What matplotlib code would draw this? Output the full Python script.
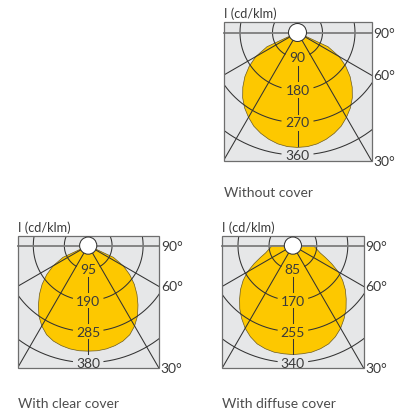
import numpy as np
import matplotlib
matplotlib.use("Agg")
import matplotlib.pyplot as plt
from matplotlib.patches import Rectangle, Circle, Polygon

plt.rcParams['font.family'] = ['Lato', 'DejaVu Sans']

# ── Data: luminous intensity (cd/klm) vs angle from nadir (deg) ──────────────
gamma = np.array([0, 5, 10, 15, 20, 25, 30, 35, 40, 45,
                  50, 55, 60, 65, 70, 75, 80, 85, 90])
i_without = np.array([339, 338, 334, 327, 318, 307, 292, 276, 257, 235,
                      211, 184, 154, 114, 20, 20, 18, 16, 15])
i_clear = np.array([345, 345, 343, 339, 333, 323, 306, 285, 259, 233,
                    206, 177, 146, 107, 21, 20, 19, 19, 19])
i_diffuse = np.array([318, 317, 316, 312, 306, 295, 281, 264, 246, 226,
                      207, 186, 163, 137, 114, 97, 88, 81, 77])

rings_without = [90, 180, 270, 360]
rings_clear = [95, 190, 285, 380]
rings_diffuse = [85, 170, 255, 340]

angle_ticks = [90, 60, 30]
unit_label = "I (cd/klm)"
captions = ["Without cover", "With clear cover", "With diffuse cover"]

# ── Style ───────────────────────────────────────────────────────────────────
BOX = '#e6e7e8'; EDGE = '#6e6e6e'; LINE = '#333333'; HLINE = '#7d7d7d'
YEL = '#fdc800'; YEDGE = '#6b5a1e'; TEXT = '#3a3a3a'; CAP = '#4d4d4d'
FS = 9.2

# ring spacing / offset of the diagram (px at scale 1)
SPACING, OFFSET = 32.5, 7.5
HALF_W, TOP, BOTTOM = 74.0, 10.3, 128.2


def radius(v, step, s):
    return s * np.clip(SPACING * np.asarray(v, float) / step - OFFSET, 0, None)


def panel(ax, cx, cy, s, values, rings, caption, cap_y):
    step = rings[0]
    x0, y0 = cx - HALF_W * s, cy - TOP * s
    w, h = 2 * HALF_W * s, (TOP + BOTTOM) * s

    bg = Rectangle((x0, y0), w, h, fc=BOX, ec='none', zorder=1)
    ax.add_patch(bg)

    # light distribution curve (symmetric)
    g = np.radians(np.concatenate([-gamma[::-1], gamma[1:]]))
    v = np.concatenate([values[::-1], values[1:]])
    r = radius(v, step, s)
    pts = np.column_stack([cx + r * np.sin(g), cy + r * np.cos(g)])
    ax.add_patch(Polygon(pts, closed=True, fc=YEL, ec=YEDGE, lw=0.5, zorder=2))

    # rings with a gap for the value label
    for k, rv in enumerate(rings):
        R = float(radius(rv, step, s))
        gap = (7.5 if rv < 100 else 11.5) * s + 5 * s
        a = np.arcsin(min(1.0, gap / R))
        t = np.linspace(a, 2 * np.pi - a, 400)
        ln, = ax.plot(cx + R * np.sin(t), cy + R * np.cos(t), color=LINE, lw=0.75, zorder=3)
        ln.set_clip_path(bg)
        ax.text(cx, cy + R, str(rv), ha='center', va='center', fontsize=10,
                color=TEXT, zorder=7)
        if k < len(rings) - 1:
            R2 = float(radius(rings[k + 1], step, s))
            ax.plot([cx, cx], [cy + R + 8 * s, cy + R2 - 9 * s], color=LINE, lw=0.75, zorder=3)

    # radial lines at 30 and 60 deg
    for ang in (-60, -30, 30, 60):
        a = np.radians(ang)
        rr = np.array([9 * s, 220 * s])
        ln, = ax.plot(cx + rr * np.sin(a), cy + rr * np.cos(a), color=LINE, lw=0.75, zorder=3)
        ln.set_clip_path(bg)

    # 90 deg line
    ax.plot([x0, x0 + w], [cy, cy], color=HLINE, lw=1.3, zorder=4)
    ax.add_patch(Rectangle((x0, y0), w, h, fill=False, ec=EDGE, lw=0.9, zorder=5))
    ax.add_patch(Circle((cx, cy), 9 * s, fc='white', ec=LINE, lw=0.75, zorder=6))

    for ang in angle_ticks:
        yy = cy + HALF_W * s / np.tan(np.radians(ang)) if ang < 90 else cy
        ax.text(x0 + w + 2, yy, f"{ang}°", ha='left', va='center', fontsize=10, color=TEXT)

    ax.text(x0, y0 - 9.5, unit_label, ha='left', va='center', fontsize=FS, color=TEXT)
    ax.text(x0, cap_y, caption, ha='left', va='center', fontsize=10, color=CAP)


fig = plt.figure(figsize=(4.07, 4.14), dpi=100)
ax = fig.add_axes([0, 0, 1, 1])
ax.set_xlim(0, 407)
ax.set_ylim(414, 0)
ax.axis('off')

panel(ax, 297.5, 33.5, 1.0, i_without, rings_without, captions[0], 193)
panel(ax, 88.2, 246.6, 0.955, i_clear, rings_clear, captions[1], 404)
panel(ax, 292.9, 246.6, 0.955, i_diffuse, rings_diffuse, captions[2], 404)

fig.savefig('out.png', dpi=100)
